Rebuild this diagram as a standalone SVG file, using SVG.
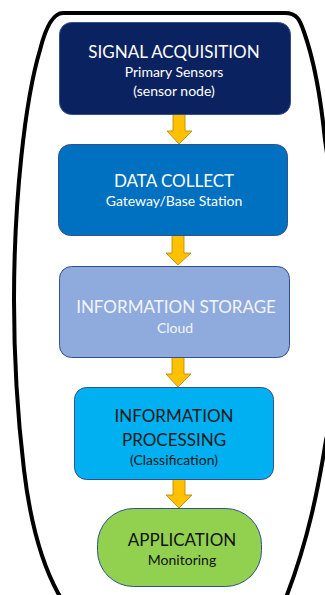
<svg xmlns="http://www.w3.org/2000/svg" width="325" height="595" viewBox="0 0 325 595">
  <defs>
    <style>
      .box { stroke: #2f528f; stroke-width: 1; }
      .t { font-family: Lato, "Liberation Sans", sans-serif; text-anchor: middle; }
      .big { font-size: 17px; }
      .small { font-size: 14px; }
      .arrow { fill: #ffc000; stroke: #b38600; stroke-width: 0.8; }
    </style>
  </defs>
  <rect width="325" height="595" fill="#ffffff"/>

  <!-- enclosing outline -->
  <path id="outline" d="M63,13 L285,13 C297,13 300,20 304,32 C314,60 321,100 325,140 C334,200 342,260 342,300 C342,360 336,400 326,440 C318,490 308,540 287,595 C282,603 275,606 265,606 L75,606 C65,606 62,600 58,593 C40,560 30,520 24,470 C18,420 14,360 14,300 C14,200 25,100 40,50 C45,30 52,13 63,13 Z" fill="none" stroke="#000000" stroke-width="4"/>

  <g id="connectors">
    <path class="arrow" d="M173,114 L185,114 L185,131 L192,131 L179,144 L167,131 L173,131 Z"/>
    <path class="arrow" d="M172,235 L184,235 L184,253 L191,253 L178,265 L166,253 L172,253 Z"/>
    <path class="arrow" d="M172,357 L184,357 L184,374 L191,374 L178,387 L166,374 L172,374 Z"/>
    <path class="arrow" d="M173,479 L185,479 L185,495 L192,495 L179,508 L166,495 L173,495 Z"/>
  </g>

  <g id="signal-acquisition">
    <rect class="box" x="59.5" y="22.5" width="231" height="92" rx="12" fill="#0b2260" stroke="#071845"/>
    <text class="t big" x="174" y="58" fill="#ffffff">SIGNAL ACQUISITION</text>
    <text class="t small" x="174" y="77" fill="#ffffff">Primary Sensors</text>
    <text class="t small" x="174" y="96" fill="#ffffff">(sensor node)</text>
  </g>

  <g id="data-collect">
    <rect class="box" x="58.5" y="144.5" width="229" height="91" rx="12" fill="#0070c0"/>
    <text class="t big" x="174" y="187" fill="#ffffff">DATA COLLECT</text>
    <text class="t small" x="174" y="206" fill="#ffffff">Gateway/Base Station</text>
  </g>

  <g id="information-storage">
    <rect class="box" x="59.5" y="266.5" width="230" height="91" rx="12" fill="#8faadc"/>
    <text class="t big" x="176" y="313" fill="#f2f5fb">INFORMATION STORAGE</text>
    <text class="t small" x="175" y="333" fill="#f2f5fb">Cloud</text>
  </g>

  <g id="information-processing">
    <rect class="box" x="74.5" y="387.5" width="199" height="92" rx="12" fill="#00b0f0"/>
    <text class="t big" x="174" y="422" fill="#1a1a1a">INFORMATION</text>
    <text class="t big" x="174" y="446" fill="#1a1a1a">PROCESSING</text>
    <text class="t small" x="174" y="465" fill="#1a1a1a">(Classification)</text>
  </g>

  <g id="application">
    <rect class="box" x="97.5" y="508.5" width="164" height="78" rx="36" fill="#92d050"/>
    <text class="t big" x="182" y="546" fill="#111111">APPLICATION</text>
    <text class="t small" x="182" y="565" fill="#111111">Monitoring</text>
  </g>
</svg>
